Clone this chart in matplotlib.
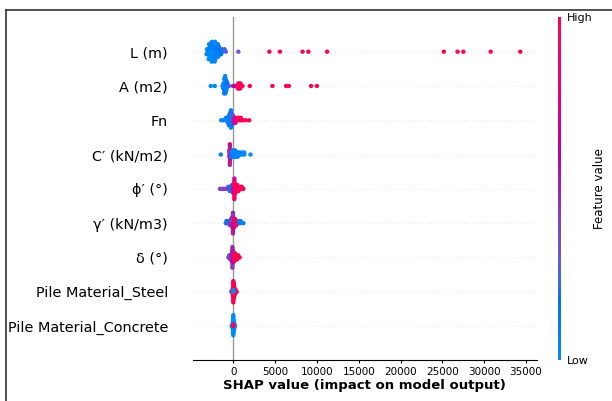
import numpy as np
import matplotlib
matplotlib.use("Agg")
import matplotlib.pyplot as plt
from matplotlib.colors import LinearSegmentedColormap, Normalize
from matplotlib.cm import ScalarMappable
from matplotlib.lines import Line2D

# features, top to bottom
features = ["L (m)", "A (m2)", "Fn", "C\u2032 (kN/m2)", "\u03d5\u2032 (\u00b0)",
            "\u03b3\u2032 (kN/m3)", "\u03b4 (\u00b0)", "Pile Material_Steel",
            "Pile Material_Concrete"]

# SHAP values per feature, and normalised feature values (0 = low, 1 = high)
L_shap = [-3200, -3150, -3080,
          -2950, -2900, -2860, -2820, -2780, -2740, -2700,
          -2600, -2560, -2520, -2480, -2450, -2410, -2370, -2330, -2290,
          -2230, -2190, -2150, -2110, -2070, -2030, -1990, -1950, -1910,
          -1850, -1790, -1730, -1670, -1610, -1550,
          -1460, -1380, -1300, -1050, -900, 600,
          4310, 5570, 8280, 8980, 11220, 25180, 26820, 27510, 30780, 34330]
L_value = [0.05, 0.0, 0.08,
           0.02, 0.06, 0.0, 0.1, 0.04, 0.07, 0.03,
           0.0, 0.05, 0.02, 0.08, 0.04, 0.1, 0.01, 0.06, 0.03,
           0.07, 0.02, 0.05, 0.0, 0.09, 0.03, 0.06, 0.12, 0.04,
           0.1, 0.05, 0.14, 0.08, 0.12, 0.16,
           0.15, 0.2, 0.12, 0.22, 0.28, 0.32,
           0.95, 1.0, 0.97, 1.0, 0.98, 1.0, 1.0, 0.99, 1.0, 1.0]

A_shap = [-2700, -2220, -1300, -1200, -1170, -1130,
          -1100, -1080, -1060, -1040, -1020, -1005, -990,
          -980, -960, -940, -920, -900, -885, -870, -860,
          -850, -820, -790, -760, -740, -700, -640, -540,
          -60, 100, 230, 480, 560, 600, 640, 690, 730, 770, 820, 860, 900,
          980, 1100, 1970, 4680, 6320, 6640, 9300, 10000]
A_value = [0.0, 0.04, 0.08, 0.05, 0.1, 0.02,
           0.06, 0.0, 0.09, 0.03, 0.12, 0.05, 0.07,
           0.02, 0.08, 0.04, 0.11, 0.0, 0.06, 0.1, 0.03,
           0.07, 0.12, 0.05, 0.15, 0.09, 0.18, 0.1, 0.22,
           0.45, 0.55, 0.62, 0.85, 0.9, 0.95, 1.0, 0.92, 1.0, 0.97, 1.0, 0.94, 1.0,
           0.98, 0.96, 1.0, 1.0, 1.0, 1.0, 1.0, 1.0]

Fn_shap = [-1450, -1182, -886, -876, -652, -646, -640,
           -520, -516, -512, -508, -504,
           -386, -382, -378, -374, -370, -366,
           -290, -286, -282, -278, -274, -270, -266, -264,
           -154, -149, -144, -139, -134, -52, -46, -40, -34,
           116, 124, 132, 250, 258, 266, 452, 466, 654, 668, 888, 902,
           1163, 1498, 1900]
Fn_value = [0.0, 0.05, 0.02, 0.08, 0.04, 0.1, 0.0,
            0.06, 0.12, 0.02, 0.09, 0.15,
            0.03, 0.1, 0.18, 0.05, 0.12, 0.0,
            0.08, 0.02, 0.14, 0.05, 0.1, 0.2, 0.04, 0.12,
            0.1, 0.35, 0.06, 0.25, 0.15, 0.3, 0.45, 0.12, 0.4,
            0.55, 0.5, 0.62, 0.7, 0.78, 0.66, 0.85, 0.9, 0.95, 0.88, 1.0, 0.96,
            1.0, 0.98, 1.0]

C_shap = [-1500, -480, -474, -468, -462,
          -414, -411, -408, -405, -402, -399, -396, -393, -390, -387, -384,
          -338, -332, -326, -230, -222, -214, -160, -151, -142,
          -54, -48, -42, -36, 88, 94, 100, 106, 230, 236, 242, 248,
          372, 382, 392, 550, 559, 568, 766, 778, 1014, 1026, 1298, 1310, 2050]
C_value = [0.02, 0.45, 0.9, 0.5, 0.4,
           0.5, 0.95, 0.45, 0.55, 0.85, 0.48, 0.52, 0.9, 0.42, 0.5, 0.46,
           0.5, 0.4, 0.55, 0.25, 0.35, 0.15, 0.1, 0.05, 0.12,
           0.0, 0.08, 0.04, 0.1, 0.05, 0.02, 0.09, 0.0, 0.06, 0.1, 0.03, 0.08,
           0.0, 0.05, 0.1, 0.04, 0.08, 0.0, 0.06, 0.02, 0.0, 0.05, 0.03, 0.0, 0.0]

phi_shap = [-1600, -1376, -1152, -956, -760, -598, -586,
            -432, -424, -416, -264, -256, -248, -124, -118, -112, -106,
            -14, -8, -2, 4, 8,
            123, 125, 128, 130, 133, 135, 138, 140, 143, 145, 148,
            264, 270, 276, 282, 288, 434, 440, 448, 454,
            632, 640, 648, 830, 842, 998, 1010, 1200]
phi_value = [0.42, 0.4, 0.45, 0.38, 0.44, 0.4, 0.46,
             0.1, 0.05, 0.15, 0.08, 0.12, 0.2, 0.1, 0.4, 0.05, 0.2,
             0.7, 0.75, 0.55, 0.8, 0.65,
             0.85, 0.7, 0.95, 0.75, 1.0, 0.8, 0.65, 0.9, 0.72, 0.88, 0.78,
             0.9, 1.0, 0.85, 0.95, 0.92, 1.0, 0.9, 0.96, 0.88,
             1.0, 0.94, 0.98, 1.0, 0.95, 1.0, 0.97, 1.0]

gamma_shap = [-900, -822, -810, -696, -684, -549, -537, -402, -396, -390,
              -256, -251, -246, -241, -110, -106, -102, -98, -94, -92,
              -48, -46, -44, -42, -40, -38, -36, -34, -32, -30, -29,
              79, 83, 87, 91, 95, 205, 210, 216, 221, 352, 360, 368,
              522, 534, 690, 702, 879, 891, 1200]
gamma_value = [0.05, 0.1, 0.02, 0.08, 0.15, 0.15, 0.35, 0.4, 0.15, 0.45,
               0.45, 0.5, 0.4, 0.48, 0.5, 0.42, 0.55, 0.45, 0.38, 0.52,
               0.45, 0.5, 0.85, 0.42, 0.55, 0.48, 0.9, 0.4, 0.52, 0.46, 0.5,
               0.6, 0.85, 0.5, 0.9, 0.55, 0.95, 0.88, 1.0, 0.92, 0.9, 0.5, 0.95,
               1.0, 0.9, 0.2, 0.12, 0.1, 0.05, 0.08]

delta_shap = [-600, -482, -475, -362, -357, -352, -254, -249, -244,
              -146, -144, -142, -140, -138, -136,
              -107, -105.5, -104, -103, -102, -100.5, -99, -98, -97, -95.5, -94,
              -38, -36, -34, -32, -30, -28, 70, 73, 76, 79, 81,
              191, 195, 198, 202, 313, 318, 323, 434, 440, 445, 570, 579, 750]
delta_value = [0.3, 0.2, 0.35, 0.45, 0.4, 0.5, 0.42, 0.5, 0.46,
               0.45, 0.5, 0.4, 0.55, 0.48, 0.44,
               0.45, 0.5, 0.42, 0.55, 0.48, 0.4, 0.52, 0.46, 0.5, 0.44, 0.48,
               0.55, 0.6, 0.5, 0.65, 0.58, 0.52, 0.7, 0.8, 0.75, 0.85, 0.9,
               0.95, 0.9, 1.0, 0.92, 1.0, 0.95, 0.98, 1.0, 0.96, 1.0, 1.0, 0.97, 1.0]

steel_shap = [-250, -122, -118, -58, -56, -55, -54, -52,
              -6, -5.5, -5, -4.5, -4, -3.5, -2.5, -1.5, -1, -0.5, 0,
              33, 33.5, 34, 34.5, 35, 36, 37, 37.5, 38, 39,
              85, 86, 86.5, 87, 88, 89, 90, 91,
              137, 138.5, 140, 141.5, 143, 202, 205, 208, 267, 272, 400, -3, -2]
steel_value = [0, 1, 1, 1, 1, 1, 1, 1,
               1, 1, 1, 1, 1, 1, 1, 1, 1, 1, 1,
               1, 1, 1, 1, 1, 1, 1, 1, 1, 1,
               1, 1, 1, 1, 1, 1, 1, 1,
               1, 1, 1, 1, 1, 1, 1, 1, 1, 1, 1, 0, 0]

concrete_shap = [-200, -101.5, -100, -98.5, -69, -67,
                 -41.5, -41, -40.5, -40, -39.5, -39, -38.5, -38.2, -41.8,
                 -5.8, -5.4, -5, -4.6, -4.2, -3.8, -3.4, -3, -2.6, -2.2, -5.6, -2.4,
                 22.2, 22.6, 23, 23.4, 23.8, 24.2, 24.6, 25, 25.4,
                 51, 53, 78.5, 79, 79.6, 80.2, 80.8, 81.4, 139, 140, 141, 200, -4.1, -3.9]
concrete_value = [0, 0, 0, 0, 0, 0,
                  0, 0, 0, 0, 0, 0, 0, 0, 0,
                  0, 0, 0, 0, 0, 0, 0, 0, 0, 0, 0, 0,
                  0, 0, 0, 0, 0, 0, 0, 0, 0,
                  0, 0, 0, 0, 0, 0, 0, 0, 0, 0, 0, 0, 1, 1]

shap_rows = [L_shap, A_shap, Fn_shap, C_shap, phi_shap, gamma_shap,
             delta_shap, steel_shap, concrete_shap]
value_rows = [L_value, A_value, Fn_value, C_value, phi_value, gamma_value,
              delta_value, steel_value, concrete_value]


def lch_to_rgb(l, c, h):
    a = c * np.cos(h)
    b = c * np.sin(h)
    fy = (l + 16) / 116
    fx = fy + a / 500
    fz = fy - b / 200

    def finv(t):
        return np.where(t > 6 / 29, t ** 3, 3 * (6 / 29) ** 2 * (t - 4 / 29))

    xyz = np.array([0.95047 * finv(fx), finv(fy), 1.08883 * finv(fz)])
    m = np.array([[3.2406, -1.5372, -0.4986],
                  [-0.9689, 1.8758, 0.0415],
                  [0.0557, -0.2040, 1.0570]])
    lin = np.clip(m @ xyz, 0, 1)
    rgb = np.where(lin <= 0.0031308, 12.92 * lin, 1.055 * lin ** (1 / 2.4) - 0.055)
    return np.clip(rgb, 0, 1).T


# shap's red_blue map (interpolated in Lch)
l_vals = np.concatenate([np.linspace(54, 40, 50), np.linspace(40, 54, 50)])
c_vals = np.linspace(70, 90, 100)
h_vals = np.linspace(4.6588, 0.35470565 + 2 * np.pi, 100)
red_blue = LinearSegmentedColormap.from_list("red_blue", lch_to_rgb(l_vals, c_vals, h_vals))


def swarm(vals, row_height=0.4, nbins=100):
    vals = np.asarray(vals, float)
    n = len(vals)
    quant = np.round(nbins * (vals - vals.min()) / (vals.max() - vals.min() + 1e-8))
    order = np.lexsort((-np.arange(n), quant))
    ys = np.zeros(n)
    layer = 0
    last = None
    for i in order:
        if quant[i] != last:
            layer = 0
        ys[i] = np.ceil(layer / 2) * ((layer % 2) * 2 - 1)
        layer += 1
        last = quant[i]
    ys *= 0.9 * (row_height / np.max(ys + 1))
    return ys


fig = plt.figure(figsize=(6.12, 4.01), dpi=100)
ax = fig.add_axes([0.3154, 0.1015, 0.5616, 0.8551])

n_feat = len(features)
for k, (name, sv, fv) in enumerate(zip(features, shap_rows, value_rows)):
    pos = n_feat - 1 - k
    ax.axhline(y=pos, color="#cccccc", lw=0.5, dashes=(1, 5), zorder=-1)
    ys = swarm(sv)
    ax.scatter(sv, pos + ys, c=fv, cmap=red_blue, vmin=0, vmax=1,
               s=10, linewidth=0, alpha=1, zorder=3)

ax.axvline(x=0, color="#999999", lw=1, zorder=-1)

ax.set_xlim(-4820, 36290)
ax.set_ylim(-1, n_feat)
ax.set_xticks(np.arange(0, 35001, 5000))
ax.set_yticks(range(n_feat))
ax.set_yticklabels(features[::-1], fontsize=10.4)
ax.tick_params("y", length=0, pad=18)
ax.tick_params("x", labelsize=7.5, length=2.5, pad=2.5)
for side in ["right", "top", "left"]:
    ax.spines[side].set_visible(False)
ax.set_xlabel("SHAP value (impact on model output)", fontsize=9.5,
              fontweight="bold", labelpad=1)

cax = fig.add_axes([0.9122, 0.1022, 0.0049, 0.8554])
cb = fig.colorbar(ScalarMappable(norm=Normalize(0, 1), cmap=red_blue),
                  cax=cax, ticks=[0, 1])
cb.set_ticklabels(["Low", "High"])
cb.ax.tick_params(labelsize=8, length=0, pad=4)
cb.set_label("Feature value", size=8.5, labelpad=0)
cb.outline.set_visible(False)

# frame around the screenshot
fig.add_artist(Line2D([5.5 / 612, 1], [1 - 9.7 / 401] * 2,
                      transform=fig.transFigure, color="#333333", lw=1.2))
fig.add_artist(Line2D([5.5 / 612] * 2, [0, 1 - 9.7 / 401],
                      transform=fig.transFigure, color="#333333", lw=1.2))

fig.savefig("out.png", dpi=100)
